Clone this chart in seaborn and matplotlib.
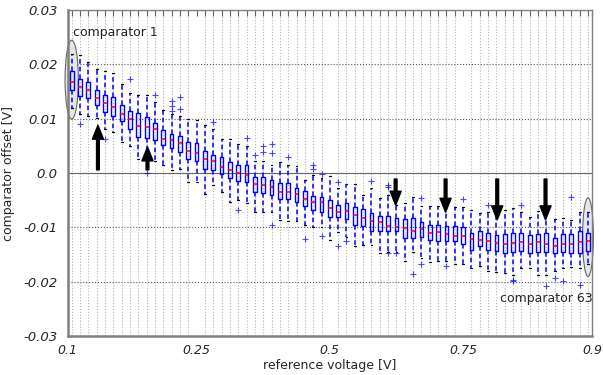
import numpy as np
import matplotlib
matplotlib.use("Agg")
import matplotlib.pyplot as plt
from matplotlib.patches import Ellipse
import seaborn as sns

# box statistics per comparator
medians = [0.0167, 0.0158, 0.0153, 0.0139, 0.0129, 0.0121, 0.0109, 0.0100, 0.0087, 0.0085,
           0.0081, 0.0062, 0.0061, 0.0055, 0.0041, 0.0037, 0.0025, 0.0022, 0.0012, 0.0005,
           0.0000, -0.0003, -0.0020, -0.0022, -0.0025, -0.0034, -0.0035, -0.0039, -0.0048, -0.0053,
           -0.0054, -0.0064, -0.0072, -0.0070, -0.0078, -0.0082, -0.0088, -0.0091, -0.0098, -0.0100,
           -0.0101, -0.0106, -0.0103, -0.0110, -0.0108, -0.0113, -0.0115, -0.0115, -0.0121, -0.0124,
           -0.0126, -0.0128, -0.0130, -0.0129, -0.0127, -0.0130, -0.0127, -0.0130, -0.0135, -0.0130,
           -0.0130, -0.0127, -0.0126]
q1 = [0.0153, 0.0142, 0.0138, 0.0126, 0.0112, 0.0105, 0.0096, 0.0082, 0.0066, 0.0065,
      0.0061, 0.0051, 0.0046, 0.0038, 0.0025, 0.0022, 0.0008, 0.0005, -0.0001, -0.0010,
      -0.0015, -0.0016, -0.0035, -0.0036, -0.0041, -0.0047, -0.0047, -0.0053, -0.0061, -0.0068,
      -0.0071, -0.0081, -0.0081, -0.0085, -0.0096, -0.0098, -0.0106, -0.0106, -0.0106, -0.0107,
      -0.0120, -0.0120, -0.0117, -0.0123, -0.0126, -0.0126, -0.0125, -0.0131, -0.0142, -0.0135,
      -0.0141, -0.0144, -0.0147, -0.0146, -0.0143, -0.0147, -0.0146, -0.0145, -0.0148, -0.0145,
      -0.0147, -0.0147, -0.0144]
q3 = [0.0188, 0.0173, 0.0168, 0.0153, 0.0143, 0.0140, 0.0126, 0.0115, 0.0111, 0.0104,
      0.0092, 0.0079, 0.0072, 0.0068, 0.0058, 0.0055, 0.0041, 0.0034, 0.0030, 0.0020,
      0.0015, 0.0014, -0.0007, -0.0008, -0.0013, -0.0019, -0.0019, -0.0028, -0.0033, -0.0042,
      -0.0044, -0.0050, -0.0058, -0.0056, -0.0062, -0.0067, -0.0073, -0.0079, -0.0079, -0.0082,
      -0.0085, -0.0082, -0.0090, -0.0096, -0.0095, -0.0098, -0.0098, -0.0099, -0.0110, -0.0107,
      -0.0110, -0.0114, -0.0112, -0.0110, -0.0110, -0.0114, -0.0113, -0.0110, -0.0119, -0.0113,
      -0.0113, -0.0106, -0.0110]
whisker_low = [0.0120, 0.0108, 0.0105, 0.0102, 0.0081, 0.0076, 0.0058, 0.0050, 0.0025, 0.0025,
               0.0023, 0.0014, 0.0005, 0.0008, -0.0016, -0.0016, -0.0039, -0.0022, -0.0035, -0.0053,
               -0.0050, -0.0056, -0.0071, -0.0072, -0.0071, -0.0086, -0.0088, -0.0088, -0.0096, -0.0100,
               -0.0100, -0.0123, -0.0108, -0.0117, -0.0135, -0.0132, -0.0132, -0.0147, -0.0146, -0.0146,
               -0.0162, -0.0146, -0.0156, -0.0164, -0.0161, -0.0162, -0.0168, -0.0168, -0.0175, -0.0172,
               -0.0181, -0.0182, -0.0184, -0.0187, -0.0175, -0.0175, -0.0187, -0.0187, -0.0181, -0.0175,
               -0.0173, -0.0175, -0.0168]
whisker_high = [0.0220, 0.0217, 0.0205, 0.0191, 0.0187, 0.0184, 0.0164, 0.0147, 0.0144, 0.0144,
                0.0130, 0.0117, 0.0108, 0.0105, 0.0100, 0.0098, 0.0088, 0.0081, 0.0062, 0.0062,
                0.0053, 0.0050, 0.0023, 0.0023, 0.0015, 0.0020, 0.0014, 0.0013, -0.0012, -0.0004,
                -0.0010, -0.0006, -0.0028, -0.0020, -0.0020, -0.0041, -0.0028, -0.0046, -0.0040, -0.0059,
                -0.0056, -0.0044, -0.0061, -0.0061, -0.0061, -0.0062, -0.0062, -0.0062, -0.0068, -0.0073,
                -0.0072, -0.0075, -0.0068, -0.0065, -0.0072, -0.0081, -0.0070, -0.0072, -0.0085, -0.0082,
                -0.0087, -0.0072, -0.0072]
outliers = [[], [0.0091], [], [], [0.0062], [], [], [0.0173], [], [0.0],
            [0.0143], [], [0.0132, 0.0123, 0.0114], [0.0140, 0.0118], [], [], [], [0.0094], [], [],
            [-0.0068], [0.0065], [0.0033], [0.0050, 0.0039], [0.0053, 0.0037, -0.0096], [], [0.0029], [], [-0.0121], [0.0015, 0.0007],
            [-0.0001, -0.0115], [], [-0.0016, -0.0134], [-0.0126], [], [], [-0.0014], [], [-0.0022, -0.0026, -0.0148], [-0.0148],
            [], [-0.0185], [-0.0045, -0.0167], [], [], [-0.0172], [], [-0.0047], [], [],
            [-0.0058], [], [], [-0.0196, -0.0198], [-0.0058], [], [], [-0.0208], [-0.0193], [-0.0198],
            [-0.0044], [-0.0207], []]

x_tick_pos = [0.5, 16, 32, 48, 63.5]
x_tick_labels = ['0.1', '0.25', '0.5', '0.75', '0.9']
y_tick_pos = [-0.03, -0.02, -0.01, 0.0, 0.01, 0.02, 0.03]
y_tick_labels = ['-0.03', '-0.02', '-0.01', '0.0', '0.01', '0.02', '0.03']

# arrows: (position, tail, tip)
arrows_up = [(4.15, 0.0006, 0.0088), (10.1, 0.0006, 0.0048)]
arrows_down = [(39.9, -0.0011, -0.0059), (45.9, -0.0011, -0.0072),
               (52.1, -0.0011, -0.0086), (57.9, -0.0011, -0.0086)]

sns.set_style("white")
plt.rcParams['font.family'] = ['DejaVu Sans']

fig = plt.figure(figsize=(6.03, 3.75), dpi=100)
ax = fig.add_axes([0.112, 0.104, 0.870, 0.869])

positions = np.arange(1, len(medians) + 1)
stats = []
for i in range(len(medians)):
    stats.append(dict(med=medians[i], q1=q1[i], q3=q3[i],
                      whislo=whisker_low[i], whishi=whisker_high[i], fliers=outliers[i]))

# gray ellipses behind first and last comparator
ax.add_patch(Ellipse((1, 0.0172), 1.6, 0.0145, facecolor='#e6e6e6', edgecolor='0.4',
                     lw=0.8, zorder=1, clip_on=False))
ax.add_patch(Ellipse((63, -0.0118), 1.3, 0.0145, facecolor='#e6e6e6', edgecolor='0.4',
                     lw=0.8, zorder=1, clip_on=False))

ax.bxp(stats, positions=positions, widths=0.45, manage_ticks=False, zorder=3,
       boxprops=dict(color='#0000ff', lw=1.0),
       medianprops=dict(color='#ff0000', lw=1.1),
       whiskerprops=dict(color='#0000ff', lw=1.1, linestyle='--', dashes=(3, 2)),
       capprops=dict(color='black', lw=0.9),
       flierprops=dict(marker='+', markeredgecolor='#0000ff', markersize=5, markeredgewidth=0.8, alpha=0.7))

ax.set_xlim(0.5, 63.5)
ax.set_ylim(-0.03, 0.03)

ax.set_xticks(x_tick_pos)
ax.set_xticklabels(x_tick_labels, fontstyle='italic', fontsize=9)
ax.set_xticks(positions, minor=True)
ax.set_yticks(y_tick_pos)
ax.set_yticklabels(y_tick_labels, fontstyle='italic', fontsize=9.5)
ax.tick_params(axis='x', which='both', direction='in', top=True, length=4, width=0.8, color='0.4')
ax.tick_params(axis='x', which='major', pad=6)
ax.tick_params(axis='y', which='major', direction='in', length=0, pad=7)

ax.grid(True, axis='x', which='minor', color='0.7', linestyle=':', lw=0.8)
ax.grid(True, axis='y', which='major', color='0.35', linestyle=':', lw=0.8)
ax.axhline(0, color='0.4', lw=0.8, zorder=2)

for sp in ax.spines.values():
    sp.set_color('0.5')
    sp.set_linewidth(1.0)
ax.spines['left'].set_linewidth(1.8)
ax.spines['bottom'].set_linewidth(1.8)

for pos, tail, tip in arrows_up + arrows_down:
    ax.annotate('', xy=(pos, tip), xytext=(pos, tail), zorder=5,
                arrowprops=dict(facecolor='black', edgecolor='black', width=2.0,
                                headwidth=8, headlength=10))

ax.text(1.2, 0.0259, 'comparator 1', fontsize=9, va='center', ha='left')
ax.text(63.5, -0.0231, 'comparator 63', fontsize=9, va='center', ha='right')

ax.set_xlabel('reference voltage [V]', fontsize=9, labelpad=1)
ax.set_ylabel('comparator offset [V]', fontsize=9, labelpad=6)

fig.savefig('out.png', dpi=100)
